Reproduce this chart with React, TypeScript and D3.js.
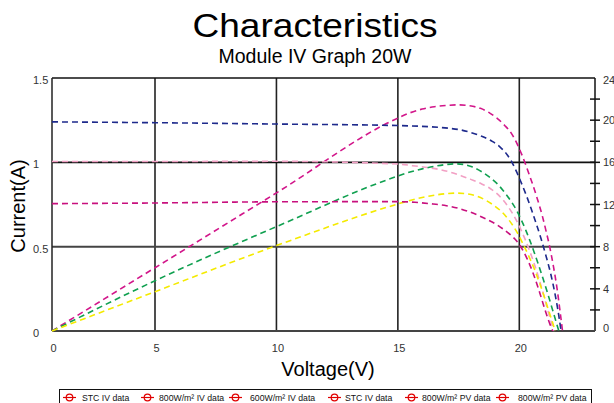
import React from "react";
import * as d3 from "d3";

// ---- data ----
const xTicks = [0, 5, 10, 15, 20];
const leftTicks = [0, 0.5, 1, 1.5];
const rightLabelTicks = [0, 4, 8, 12, 16, 20, 24];
const rightMinorTicks = [2, 4, 6, 8, 10, 12, 14, 16, 18, 20, 22];

// IV curves (current, left axis) [V, A]
const stcIv: [number, number][] = [
  [0, 1.24], [5, 1.235], [10, 1.227], [15, 1.218], [16.3, 1.211], [17.1, 1.202], [17.6, 1.192],
  [18, 1.177], [18.45, 1.155], [18.9, 1.123], [19.2, 1.092], [19.5, 1.045], [19.7, 1.0],
  [19.9, 0.94], [20.1, 0.872], [20.3, 0.8], [20.5, 0.72], [20.7, 0.635],
  [20.9, 0.545], [21.1, 0.445], [21.3, 0.335], [21.45, 0.235], [21.6, 0.115], [21.72, 0],
];
const iv800: [number, number][] = [
  [0, 1.005], [5, 1.005], [10, 1.006], [15, 0.99], [15.6, 0.98], [16.3, 0.968], [16.8, 0.955],
  [17.2, 0.94], [17.6, 0.921], [18.0, 0.899], [18.45, 0.872], [18.8, 0.845], [19.07, 0.816],
  [19.34, 0.775], [19.55, 0.735], [19.75, 0.69], [19.92, 0.645], [20.1, 0.59], [20.25, 0.54],
  [20.4, 0.485], [20.6, 0.405], [20.8, 0.315], [21.0, 0.215], [21.2, 0.11], [21.42, 0],
];
const iv600: [number, number][] = [
  [0, 0.755], [5, 0.759], [10, 0.766], [15, 0.767], [15.7, 0.763], [16.45, 0.753], [17, 0.743],
  [17.5, 0.727], [17.9, 0.709], [18.3, 0.686], [18.73, 0.657], [19.05, 0.632], [19.35, 0.603],
  [19.7, 0.562], [19.9, 0.532], [20.1, 0.49], [20.3, 0.435], [20.55, 0.35], [20.8, 0.245],
  [21.05, 0.13], [21.25, 0.045], [21.38, 0],
];

// PV curves (power, right axis) [V, W]
const stcPv: [number, number][] = [
  [0, 0], [5, 6.0], [10, 13.1], [15, 20.2], [15.5, 20.7], [16, 21.05], [16.5, 21.28],
  [17, 21.4], [17.5, 21.45], [17.9, 21.38], [18.4, 21.12], [18.8, 20.65], [19.1, 20.15],
  [19.4, 19.5], [19.7, 18.65], [19.9, 17.8], [20.1, 16.75], [20.4, 14.9], [20.7, 12.85],
  [20.95, 10.9], [21.1, 9.5], [21.25, 8.0], [21.4, 6.2], [21.55, 4.1], [21.66, 2.2], [21.78, 0],
];
const pv800: [number, number][] = [
  [0, 0], [5, 4.77], [10, 9.9], [15, 14.7], [15.5, 15.08], [16, 15.38], [16.5, 15.62],
  [17, 15.8], [17.35, 15.86], [17.7, 15.8], [18.05, 15.58], [18.46, 15.1], [18.8, 14.55],
  [19.14, 13.85], [19.41, 13.1], [19.69, 12.2], [19.9, 11.4], [20.1, 10.45], [20.27, 9.55],
  [20.44, 8.55], [20.6, 7.55], [20.78, 6.35], [20.98, 4.95], [21.19, 3.4], [21.39, 1.85],
  [21.53, 0.75], [21.63, 0],
];
const pv600: [number, number][] = [
  [0, 0], [5, 3.73], [10, 8.1], [15, 12.05], [15.5, 12.38], [16, 12.66], [16.5, 12.88],
  [17, 13.03], [17.4, 13.08], [17.8, 13.03], [18.25, 12.8], [18.66, 12.35], [18.93, 11.95],
  [19.28, 11.3], [19.55, 10.6], [19.75, 9.95], [19.96, 9.15], [20.1, 8.5], [20.25, 7.8],
  [20.45, 6.8], [20.65, 5.7], [20.85, 4.45], [21.05, 3.1], [21.2, 2.0], [21.35, 0.95],
  [21.48, 0],
];

const legendLabels = [
  "STC IV data",
  "800W/m\u00B2 IV data",
  "600W/m\u00B2 IV data",
  "STC IV data",
  "800W/m\u00B2 PV data",
  "800W/m\u00B2 PV data",
];

// ---- layout ----
const W = 614;
const H = 403;
const L = 52;
const R = 595;
const T = 78;
const B = 331;
const FONT = "'Liberation Sans', Arial, Helvetica, sans-serif";
const legendMarkerX = [63, 141, 229, 328, 405, 496];
const legendTextX = [82, 159, 250, 345, 422, 518];

const x = d3.scaleLinear().domain([0, 5, 20]).range([L, 155, 519.3]);
const yL = d3.scaleLinear().domain([0, 1.5]).range([B, T]);
const yR = d3.scaleLinear().domain([0, 24]).range([B, T]);

const lineL = d3
  .line<[number, number]>()
  .x((d) => x(d[0]))
  .y((d) => yL(d[1]))
  .curve(d3.curveMonotoneX);
const lineR = d3
  .line<[number, number]>()
  .x((d) => x(d[0]))
  .y((d) => yR(d[1]))
  .curve(d3.curveMonotoneX);

const series = [
  { d: lineR(stcPv), color: "#d2168a" },
  { d: lineL(stcIv), color: "#1e2a8c" },
  { d: lineL(iv800), color: "#f2a0c4" },
  { d: lineR(pv800), color: "#10a050" },
  { d: lineR(pv600), color: "#f4ea00" },
  { d: lineL(iv600), color: "#c8107e" },
];

export default function App() {
  return (
    <svg
      width={W}
      height={H}
      style={{ position: "absolute", left: 0, top: 0, background: "#fff" }}
      fontFamily={FONT}
    >
      <rect x={0} y={0} width={W} height={H} fill="#fff" />
      {/* titles */}
      <text x={315} y={37} textAnchor="middle" fontSize={33} textLength={245} lengthAdjust="spacingAndGlyphs" fill="#000">
        Characteristics
      </text>
      <text x={315} y={63} textAnchor="middle" fontSize={19.5} fill="#000">
        Module IV Graph 20W
      </text>

      {/* grid */}
      {xTicks.slice(1).map((v) => (
        <line key={"gx" + v} x1={x(v)} x2={x(v)} y1={T} y2={B} stroke="#222" strokeWidth={1.6} />
      ))}
      {leftTicks.slice(1, 3).map((v) => (
        <line key={"gy" + v} x1={L} x2={R} y1={yL(v)} y2={yL(v)} stroke={v === 0.5 ? "#444" : "#111"} strokeWidth={v === 0.5 ? 2 : 1.6} />
      ))}

      {/* frame */}
      <line x1={L} x2={R} y1={T} y2={T} stroke="#111" strokeWidth={1.5} />
      <line x1={L} x2={L} y1={T} y2={B} stroke="#222" strokeWidth={1.5} />
      <line x1={R} x2={R} y1={T} y2={B} stroke="#111" strokeWidth={1.5} />
      <line x1={L} x2={R} y1={B} y2={B} stroke="#444" strokeWidth={2} />

      {/* curves */}
      {series.map((s, i) => (
        <path key={"s" + i} d={s.d || ""} fill="none" stroke={s.color} strokeWidth={1.6} strokeDasharray="6,4" />
      ))}

      {/* left axis labels */}
      {leftTicks.map((v) => (
        <text key={"lt" + v} x={33} y={yL(v) + 6} fontSize={11} fill="#333">
          {v === 0 ? "0" : String(v)}
        </text>
      ))}
      {/* bottom axis labels */}
      {xTicks.map((v) => (
        <text key={"bt" + v} x={x(v) + 1.5} y={352} fontSize={11} fill="#333" textAnchor="middle">
          {v}
        </text>
      ))}
      {/* right axis ticks and labels */}
      {rightMinorTicks.map((v) => (
        <line key={"rt" + v} x1={R - 5} x2={R + 5} y1={yR(v)} y2={yR(v)} stroke="#111" strokeWidth={1.5} />
      ))}
      {rightLabelTicks.map((v) => (
        <text key={"rl" + v} x={603} y={yR(v) + (v === 0 ? 1 : v === 24 ? 6 : 4)} fontSize={11} fill="#333">
          {v}
        </text>
      ))}

      {/* axis titles */}
      <text transform={`translate(25,206) rotate(-90)`} textAnchor="middle" fontSize={20} fill="#000">
        Current(A)
      </text>
      <text x={328} y={376} textAnchor="middle" fontSize={20} fill="#000">
        Voltage(V)
      </text>

      {/* legend */}
      <rect x={59.5} y={389.5} width={532} height={15} fill="#fff" stroke="#111" strokeWidth={1} />
      {legendLabels.map((lab, i) => (
        <g key={"lg" + i}>
          <line x1={legendMarkerX[i]} x2={legendMarkerX[i] + 13} y1={397.5} y2={397.5} stroke="#e00000" strokeWidth={1.2} />
          <circle cx={legendMarkerX[i] + 6.5} cy={397.5} r={3.3} fill="none" stroke="#e00000" strokeWidth={1.2} />
          <text x={legendTextX[i]} y={400.5} fontSize={8.7} fill="#111">
            {lab}
          </text>
        </g>
      ))}
    </svg>
  );
}
